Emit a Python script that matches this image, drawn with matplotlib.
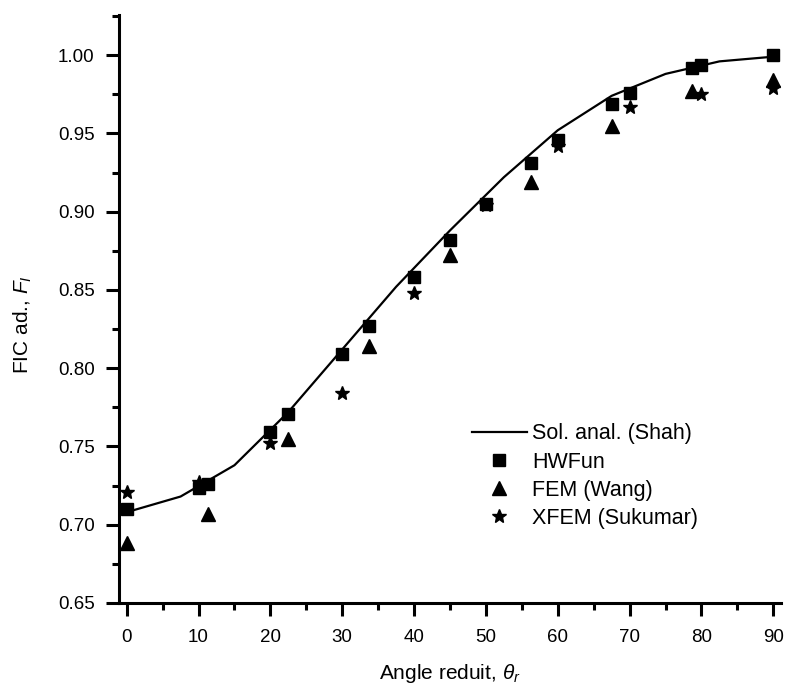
import matplotlib
matplotlib.use("Agg")
import matplotlib.pyplot as plt
from matplotlib.ticker import MultipleLocator, FormatStrFormatter

plt.rcParams['font.family'] = ['Liberation Sans', 'DejaVu Sans']
plt.rcParams['mathtext.fontset'] = 'custom'
plt.rcParams['mathtext.rm'] = 'Liberation Sans'
plt.rcParams['mathtext.it'] = 'Liberation Sans:italic'

# analytical solution (Shah)
shah_x = [0, 7.5, 15, 22.5, 30, 37.5, 45, 52.5, 60, 67.5, 75, 82.5, 90]
shah_y = [0.708, 0.718, 0.738, 0.772, 0.812, 0.852, 0.888, 0.922, 0.952, 0.974, 0.988, 0.996, 0.999]

# HWFun
hw_x = [0, 10, 11.25, 20, 22.5, 30, 33.75, 40, 45, 50, 56.25, 60, 67.5, 70, 78.75, 80, 90]
hw_y = [0.710, 0.7235, 0.7263, 0.759, 0.771, 0.809, 0.827, 0.858, 0.882, 0.905, 0.931, 0.946, 0.969, 0.976, 0.992, 0.994, 1.000]

# FEM (Wang)
fem_x = [0, 11.25, 22.5, 33.75, 45, 56.25, 67.5, 78.75, 90]
fem_y = [0.688, 0.707, 0.755, 0.814, 0.872, 0.919, 0.955, 0.977, 0.984]

# XFEM (Sukumar)
xfem_x = [0, 10, 20, 30, 40, 50, 60, 70, 80, 90]
xfem_y = [0.721, 0.727, 0.752, 0.784, 0.848, 0.904, 0.942, 0.967, 0.975, 0.979]

fig = plt.figure(figsize=(7.85, 6.91), dpi=100)
ax = fig.add_axes([0.1516, 0.1274, 0.8434, 0.8506])

ax.plot(shah_x, shah_y, color='black', lw=1.6, label='Sol. anal. (Shah)')
ax.plot(hw_x, hw_y, ls='none', marker='s', ms=8, color='black', label='HWFun')
ax.plot(fem_x, fem_y, ls='none', marker='^', ms=10, color='black', label='FEM (Wang)')
ax.plot(xfem_x, xfem_y, ls='none', marker='*', ms=10, color='black', label='XFEM (Sukumar)')

ax.set_xlim(-1.07, 91.08)
ax.set_ylim(0.65, 1.0255)
ax.xaxis.set_major_locator(MultipleLocator(10))
ax.xaxis.set_minor_locator(MultipleLocator(5))
ax.yaxis.set_major_locator(MultipleLocator(0.05))
ax.yaxis.set_minor_locator(MultipleLocator(0.025))
ax.yaxis.set_major_formatter(FormatStrFormatter('%.2f'))

for s in ['top', 'right']:
    ax.spines[s].set_visible(False)
for s in ['left', 'bottom']:
    ax.spines[s].set_linewidth(2.2)
ax.tick_params(which='major', direction='out', length=9.5, width=2.2, labelsize=13.5)
ax.tick_params(axis='y', which='major', pad=8)
ax.tick_params(axis='x', which='major', pad=9)
ax.tick_params(which='minor', direction='out', length=5, width=2.2)

ax.set_xlabel(r'Angle reduit, $\theta_r$', fontsize=15, labelpad=12)
ax.set_ylabel(r'FIC ad., $F_I$', fontsize=15)
ax.yaxis.set_label_coords(-0.128, 0.473)

ax.legend(loc='upper left', bbox_to_anchor=(0.52, 0.32), frameon=False, fontsize=15.5,
          handlelength=2.55, handletextpad=0.25, labelspacing=0.33, borderaxespad=0)

fig.savefig('out.png', dpi=100)
